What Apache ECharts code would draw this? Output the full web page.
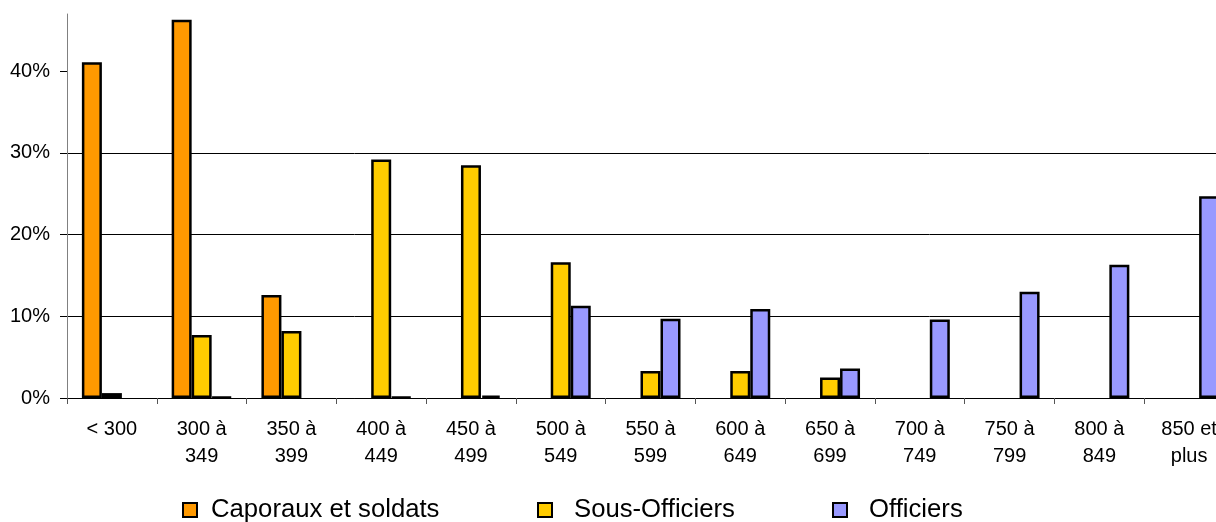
<!DOCTYPE html>
<html>
<head>
<meta charset="utf-8">
<script src="https://cdn.jsdelivr.net/npm/echarts@6/dist/echarts.min.js"></script>
<style>
  html, body { margin: 0; padding: 0; background: #fff; }
  #chart { width: 1216px; height: 522px; }
</style>
</head>
<body>
<div id="chart"></div>
<script>
// tranches de solde
const categories = ['< 300', '300 à\n349', '350 à\n399', '400 à\n449', '450 à\n499', '500 à\n549',
  '550 à\n599', '600 à\n649', '650 à\n699', '700 à\n749', '750 à\n799', '800 à\n849', '850 et\nplus'];
// pourcentages par grade (null = pas de barre)
const caporaux = [41.1, 46.3, 12.6, null, null, null, null, null, null, null, null, null, null];
const sousOfficiers = [0.6, 7.7, 8.2, 29.2, 28.5, 16.6, 3.3, 3.3, 2.5, null, null, null, null];
const officiers = [null, 0.1, null, 0.1, 0.3, 11.3, 9.7, 10.9, 3.6, 9.6, 13.0, 16.3, 24.7];
const yTicks = [0, 10, 20, 30, 40];

const font = 'Liberation Sans, Arial, sans-serif';
let myChart = echarts.init(document.getElementById('chart'));

function barSerie(name, data, color) {
  return {
    name: name,
    type: 'bar',
    data: data,
    barWidth: 20,
    barGap: '0%',
    itemStyle: { color: color, borderColor: '#000', borderWidth: 2.5 },
    animation: false
  };
}

// une légende par série pour caler les positions
function legendItem(name, left, pad) {
  return {
    left: left,
    top: 497,
    padding: 0,
    itemWidth: 14,
    itemHeight: 14,
    icon: 'rect',
    itemStyle: { borderColor: '#000', borderWidth: 2 },
    textStyle: { fontFamily: font, fontSize: 25.7, color: '#000', padding: [0, 0, 0, pad] },
    selectedMode: false,
    data: [name]
  };
}

let option = {
  backgroundColor: '#fff',
  animation: false,
  // le graphique d'origine est coupé à droite
  grid: { left: 67, right: -18, top: 14, bottom: 124, containLabel: false, outerBoundsMode: 'none' },
  legend: [
    legendItem('Caporaux et soldats', 182, 9),
    legendItem('Sous-Officiers', 537, 17),
    legendItem('Officiers', 832, 17)
  ],
  xAxis: {
    type: 'category',
    data: categories,
    axisLine: { lineStyle: { color: '#000', width: 1 } },
    axisTick: { show: true, length: 6, lineStyle: { color: '#555' } },
    axisLabel: { fontFamily: font, fontSize: 20, color: '#000', lineHeight: 27, margin: 18, interval: 0 },
    splitLine: { show: false }
  },
  yAxis: {
    type: 'value',
    min: 0,
    max: 47,
    interval: 10,
    axisLine: { show: true, lineStyle: { color: '#808080' } },
    axisTick: { show: true, length: 7, lineStyle: { color: '#000' }, customValues: yTicks },
    axisLabel: {
      fontFamily: font, fontSize: 20, color: '#000', margin: 17,
      customValues: yTicks,
      formatter: function (v) { return v + '%'; }
    },
    splitLine: { show: true, showMaxLine: false, lineStyle: { color: '#000', width: 1 } }
  },
  series: [
    barSerie('Caporaux et soldats', caporaux, '#FF9900'),
    barSerie('Sous-Officiers', sousOfficiers, '#FFCC00'),
    barSerie('Officiers', officiers, '#9999FF')
  ]
};
myChart.setOption(option);
</script>
</body>
</html>
